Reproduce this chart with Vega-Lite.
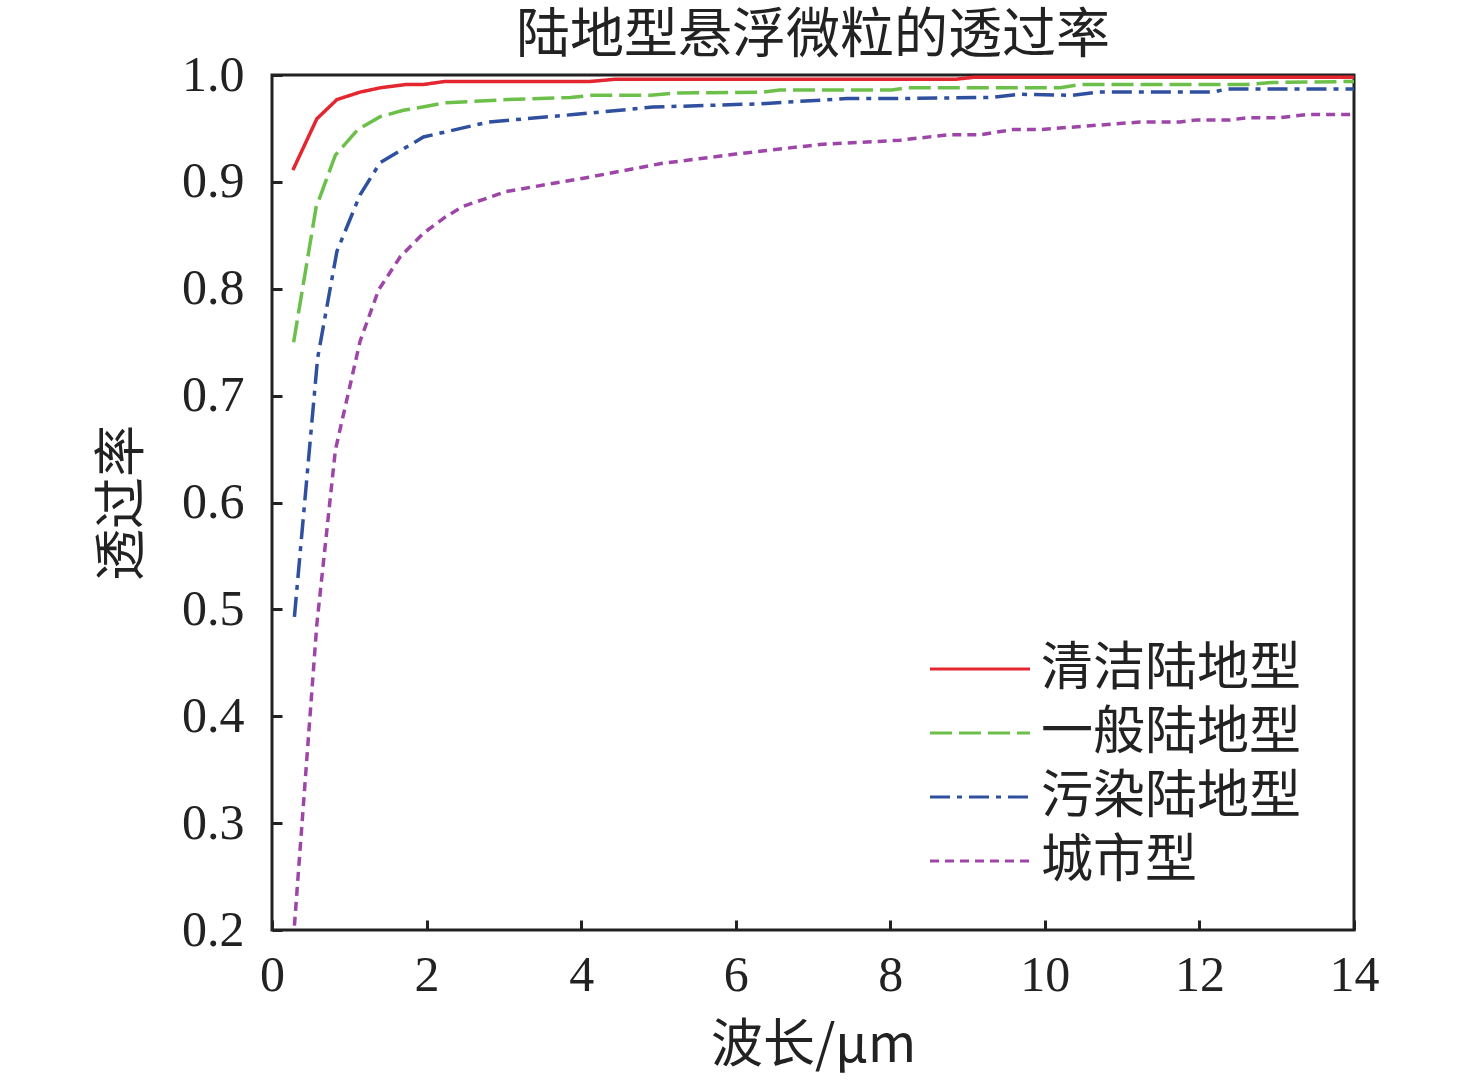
{
  "$schema": "https://vega.github.io/schema/vega-lite/v6.json",
  "autosize": {"type": "none"},
  "padding": {"left": 272, "top": 75, "right": 122, "bottom": 155},
  "width": 1082,
  "height": 855,
  "background": "white",
  "title": {
    "text": "陆地型悬浮微粒的透过率",
    "fontSize": 54,
    "fontWeight": "normal",
    "font": "Liberation Serif, Noto Sans CJK SC",
    "color": "#222",
    "anchor": "middle",
    "offset": -14
  },
  "config": {
    "font": "Liberation Serif, Noto Sans CJK SC",
    "view": {"stroke": "#222", "strokeWidth": 3},
    "axis": {
      "grid": false,
      "domain": false,
      "ticks": true,
      "tickColor": "#222",
      "tickWidth": 3,
      "tickSize": -10,
      "labelFlush": false,
      "labelFont": "Liberation Serif",
      "labelFontSize": 50,
      "labelColor": "#222",
      "titleFont": "Noto Sans CJK SC",
      "titleFontSize": 52,
      "titleFontWeight": "normal",
      "titleColor": "#222"
    },
    "legend": {
      "labelFont": "Noto Sans CJK SC",
      "labelFontSize": 52,
      "labelColor": "#222",
      "labelLimit": 0
    }
  },
  "data": {
    "values": [
      {"x": 0.27, "t": 0.911, "s": "清洁陆地型"},
      {"x": 0.58, "t": 0.959, "s": "清洁陆地型"},
      {"x": 0.84, "t": 0.977, "s": "清洁陆地型"},
      {"x": 1.14, "t": 0.984, "s": "清洁陆地型"},
      {"x": 1.40, "t": 0.988, "s": "清洁陆地型"},
      {"x": 1.72, "t": 0.991, "s": "清洁陆地型"},
      {"x": 1.95, "t": 0.991, "s": "清洁陆地型"},
      {"x": 2.24, "t": 0.994, "s": "清洁陆地型"},
      {"x": 4.12, "t": 0.994, "s": "清洁陆地型"},
      {"x": 4.44, "t": 0.996, "s": "清洁陆地型"},
      {"x": 8.84, "t": 0.996, "s": "清洁陆地型"},
      {"x": 9.10, "t": 0.998, "s": "清洁陆地型"},
      {"x": 14.0, "t": 0.998, "s": "清洁陆地型"},

      {"x": 0.28, "t": 0.750, "s": "一般陆地型"},
      {"x": 0.57, "t": 0.876, "s": "一般陆地型"},
      {"x": 0.82, "t": 0.925, "s": "一般陆地型"},
      {"x": 1.11, "t": 0.949, "s": "一般陆地型"},
      {"x": 1.40, "t": 0.961, "s": "一般陆地型"},
      {"x": 1.70, "t": 0.967, "s": "一般陆地型"},
      {"x": 1.95, "t": 0.970, "s": "一般陆地型"},
      {"x": 2.24, "t": 0.974, "s": "一般陆地型"},
      {"x": 3.04, "t": 0.977, "s": "一般陆地型"},
      {"x": 3.86, "t": 0.979, "s": "一般陆地型"},
      {"x": 4.14, "t": 0.981, "s": "一般陆地型"},
      {"x": 4.90, "t": 0.981, "s": "一般陆地型"},
      {"x": 5.19, "t": 0.983, "s": "一般陆地型"},
      {"x": 6.35, "t": 0.984, "s": "一般陆地型"},
      {"x": 6.57, "t": 0.986, "s": "一般陆地型"},
      {"x": 8.02, "t": 0.986, "s": "一般陆地型"},
      {"x": 8.20, "t": 0.988, "s": "一般陆地型"},
      {"x": 10.2, "t": 0.988, "s": "一般陆地型"},
      {"x": 10.45, "t": 0.991, "s": "一般陆地型"},
      {"x": 12.6, "t": 0.991, "s": "一般陆地型"},
      {"x": 12.95, "t": 0.993, "s": "一般陆地型"},
      {"x": 14.0, "t": 0.994, "s": "一般陆地型"},

      {"x": 0.29, "t": 0.493, "s": "污染陆地型"},
      {"x": 0.59, "t": 0.735, "s": "污染陆地型"},
      {"x": 0.84, "t": 0.835, "s": "污染陆地型"},
      {"x": 1.14, "t": 0.888, "s": "污染陆地型"},
      {"x": 1.40, "t": 0.918, "s": "污染陆地型"},
      {"x": 1.96, "t": 0.942, "s": "污染陆地型"},
      {"x": 2.80, "t": 0.956, "s": "污染陆地型"},
      {"x": 3.90, "t": 0.963, "s": "污染陆地型"},
      {"x": 4.93, "t": 0.970, "s": "污染陆地型"},
      {"x": 6.30, "t": 0.973, "s": "污染陆地型"},
      {"x": 7.44, "t": 0.978, "s": "污染陆地型"},
      {"x": 8.13, "t": 0.978, "s": "污染陆地型"},
      {"x": 9.30, "t": 0.979, "s": "污染陆地型"},
      {"x": 9.68, "t": 0.982, "s": "污染陆地型"},
      {"x": 10.36, "t": 0.981, "s": "污染陆地型"},
      {"x": 10.68, "t": 0.984, "s": "污染陆地型"},
      {"x": 12.17, "t": 0.984, "s": "污染陆地型"},
      {"x": 12.36, "t": 0.987, "s": "污染陆地型"},
      {"x": 14.0, "t": 0.987, "s": "污染陆地型"},

      {"x": 0.29, "t": 0.204, "s": "城市型"},
      {"x": 0.58, "t": 0.486, "s": "城市型"},
      {"x": 0.82, "t": 0.649, "s": "城市型"},
      {"x": 1.14, "t": 0.751, "s": "城市型"},
      {"x": 1.38, "t": 0.799, "s": "城市型"},
      {"x": 1.66, "t": 0.830, "s": "城市型"},
      {"x": 1.96, "t": 0.852, "s": "城市型"},
      {"x": 2.24, "t": 0.867, "s": "城市型"},
      {"x": 2.47, "t": 0.877, "s": "城市型"},
      {"x": 3.03, "t": 0.891, "s": "城市型"},
      {"x": 4.15, "t": 0.905, "s": "城市型"},
      {"x": 5.02, "t": 0.917, "s": "城市型"},
      {"x": 6.00, "t": 0.926, "s": "城市型"},
      {"x": 7.09, "t": 0.935, "s": "城市型"},
      {"x": 8.13, "t": 0.939, "s": "城市型"},
      {"x": 8.73, "t": 0.944, "s": "城市型"},
      {"x": 9.16, "t": 0.944, "s": "城市型"},
      {"x": 9.59, "t": 0.949, "s": "城市型"},
      {"x": 9.94, "t": 0.949, "s": "城市型"},
      {"x": 11.23, "t": 0.956, "s": "城市型"},
      {"x": 11.75, "t": 0.956, "s": "城市型"},
      {"x": 11.97, "t": 0.958, "s": "城市型"},
      {"x": 12.40, "t": 0.958, "s": "城市型"},
      {"x": 12.62, "t": 0.960, "s": "城市型"},
      {"x": 13.04, "t": 0.960, "s": "城市型"},
      {"x": 13.39, "t": 0.963, "s": "城市型"},
      {"x": 14.0, "t": 0.963, "s": "城市型"}
    ]
  },
  "mark": {"type": "line", "strokeWidth": 3.5, "clip": true},
  "encoding": {
    "x": {
      "field": "x",
      "type": "quantitative",
      "title": "波长/μm",
      "scale": {"domain": [0, 14], "nice": false, "zero": false},
      "axis": {"values": [0, 2, 4, 6, 8, 10, 12, 14], "labelPadding": 30, "titlePadding": 20}
    },
    "y": {
      "field": "t",
      "type": "quantitative",
      "title": "透过率",
      "scale": {"domain": [0.2, 1.0], "nice": false, "zero": false},
      "axis": {"values": [0.2, 0.3, 0.4, 0.5, 0.6, 0.7, 0.8, 0.9, 1.0], "format": ".1f", "labelPadding": 38, "titlePadding": 32}
    },
    "color": {
      "field": "s",
      "type": "nominal",
      "scale": {
        "domain": ["清洁陆地型", "一般陆地型", "污染陆地型", "城市型"],
        "range": ["#e3262f", "#6cc04a", "#2f4f9f", "#9e46a8"]
      },
      "legend": {
        "title": null,
        "orient": "none",
        "legendX": 682,
        "legendY": 568,
        "symbolType": "M-5,0H5",
        "symbolSize": 400,
        "symbolStrokeWidth": 3,
        "labelOffset": 35,
        "rowPadding": 12
      }
    },
    "strokeDash": {
      "field": "s",
      "type": "nominal",
      "scale": {
        "domain": ["清洁陆地型", "一般陆地型", "污染陆地型", "城市型"],
        "range": [[1, 0], [22, 7], [20, 7, 5, 7], [9, 6]]
      },
      "legend": null
    }
  }
}
